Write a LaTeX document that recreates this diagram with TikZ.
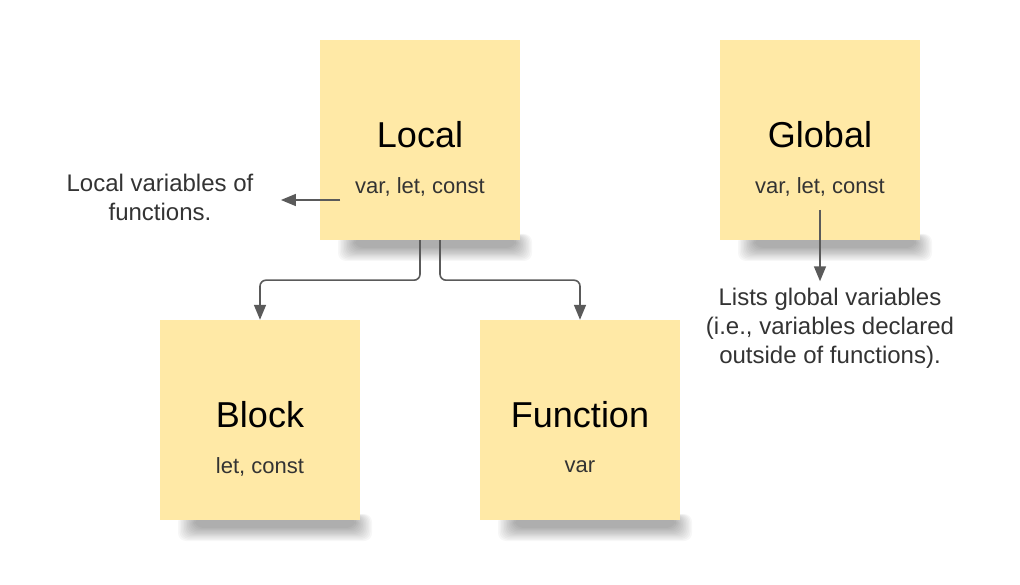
\documentclass[tikz,border=0pt]{standalone}
\usepackage{fontspec}
\setmainfont{Liberation Sans}
\usetikzlibrary{arrows.meta, positioning}
\definecolor{stickycl}{RGB}{255, 233, 166}
\definecolor{arrowcl}{RGB}{90, 90, 90}
\definecolor{textcl}{RGB}{51, 51, 51}

\begin{document}
\begin{tikzpicture}[x=1pt, y=-1pt, >={Triangle[length=15pt, width=12pt]},
    sticky/.style={fill=stickycl, minimum width=200pt, minimum height=200pt, inner sep=0pt},
    stickyshade/.style={fill=black, opacity=0.03, rounded corners=8pt},
    stickytitle/.style={font=\fontsize{36}{40}\selectfont, text=black},
    stickyvars/.style={font=\fontsize{22}{26}\selectfont, text=textcl},
    remark/.style={font=\fontsize{24}{29}\selectfont, text=textcl, align=center},
    link/.style={->, draw=arrowcl, line width=1.6pt, rounded corners=6pt}]

    \useasboundingbox (0,0) rectangle (1020,585);

    % Sticky notes
    \foreach \name/\x/\y/\ttl/\vars in {local/420/140/Local/{var, let, const},
        global/820/140/Global/{var, let, const},
        block/260/420/Block/{let, const},
        function/580/420/Function/var} {
        \foreach \i in {0,...,11}
            \fill[stickyshade] (\x-82+\i*1.5,\y+94+\i*0.3) rectangle (\x+112-\i*1.5,\y+121-\i*1.2);
        \node[sticky] (\name) at (\x,\y) {};
        \node[stickytitle] (\name title) at (\x,\y-5) {\ttl};
        \node[stickyvars] (\name vars) at (\x,\y+47) {\vars};
    }

    % Remarks
    \node[remark] (localnote) at (160,197) {Local variables of\\functions.};
    \node[remark] (globalnote) at (830,328) {Lists global variables\\(i.e., variables declared\\outside of functions).};

    % Arrows
    \coordinate (localtip) at (340,200);
    \coordinate (globaltip) at (820,210);
    \draw[link] (localtip) -- ([xshift=24pt]localnote.east |- localtip);
    \draw[link] (local.south) -- ++(0,40) -| (block.north);
    \draw[link] ([xshift=20pt]local.south) -- ++(0,40) -| (function.north);
    \draw[link] (globaltip) -- ([yshift=3pt]globalnote.north -| globaltip);
\end{tikzpicture}
\end{document}
